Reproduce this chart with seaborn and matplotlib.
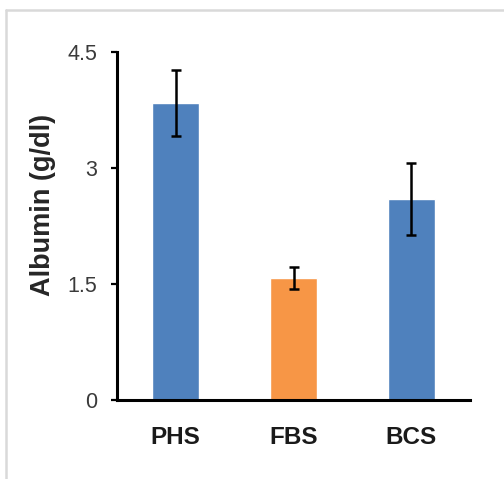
import matplotlib
matplotlib.use("Agg")
import matplotlib.pyplot as plt
import seaborn as sns
import pandas as pd
from matplotlib.lines import Line2D

# values
groups = ["PHS", "FBS", "BCS"]
albumin = [3.84, 1.58, 2.60]
albumin_err = [0.43, 0.14, 0.47]
bar_colors = ["#4F81BD", "#F79646", "#4F81BD"]
y_ticks = [0, 1.5, 3, 4.5]
y_tick_labels = ["0", "1.5", "3", "4.5"]

df = pd.DataFrame({"group": groups, "albumin": albumin})

sns.set_style("white")
plt.rcParams["font.family"] = ["Liberation Sans", "DejaVu Sans"]

fig = plt.figure(figsize=(5.04, 4.79), dpi=100)
ax = fig.add_axes([0.232, 0.165, 0.701, 0.726])

sns.barplot(data=df, x="group", y="albumin", hue="group", palette=bar_colors,
            width=0.4, errorbar=None, legend=False, saturation=1, ax=ax)
ax.errorbar(range(len(groups)), albumin, yerr=albumin_err, fmt="none",
            ecolor="black", elinewidth=1.8, capsize=3.6, capthick=1.8)

ax.set_xlim(-0.5, 2.5)
ax.set_ylim(0, 4.5)
ax.set_yticks(y_ticks)
ax.set_yticklabels(y_tick_labels)
ax.set_xlabel("")
ax.set_ylabel("Albumin (g/dl)", fontsize=19.5, fontweight="bold")
ax.yaxis.set_label_coords(-0.172, 0.56)

ax.tick_params(axis="y", length=4, width=1.6, color="black", pad=10,
               labelsize=15.5, labelcolor="#3a3a3a", left=True)
ax.tick_params(axis="x", length=0, pad=19, labelsize=17.5)
for lbl in ax.get_xticklabels():
    lbl.set_fontweight("bold")
    lbl.set_color("#1a1a1a")

for side in ["top", "right"]:
    ax.spines[side].set_visible(False)
for side in ["left", "bottom"]:
    ax.spines[side].set_linewidth(2.2)
    ax.spines[side].set_color("black")

# light grey frame of the original picture
fig.add_artist(Line2D([6 / 504, 6 / 504], [0, 1 - 10 / 479], color="#d9d9d9", lw=1.8))
fig.add_artist(Line2D([6 / 504, 1], [1 - 10 / 479, 1 - 10 / 479], color="#d9d9d9", lw=1.8))

fig.savefig("out.png", dpi=100)
plt.close(fig)
